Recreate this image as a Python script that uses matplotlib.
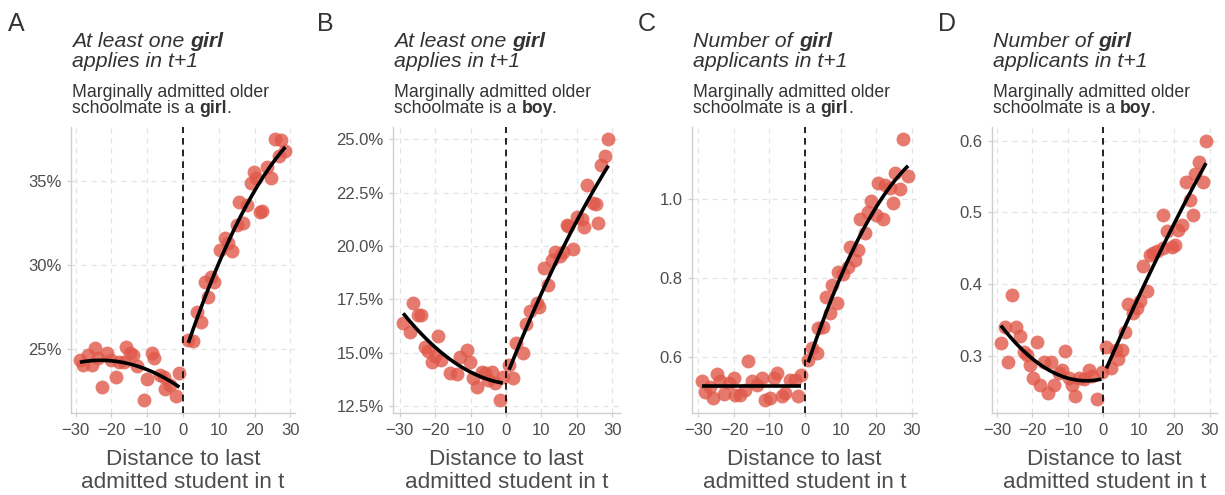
import numpy as np
import matplotlib
matplotlib.use("Agg")
import matplotlib.pyplot as plt

# ---------------- data ----------------
# Panel A: at least one girl applies in t+1 (girl older schoolmate), percent
a_xl = [-28.8, -27.9, -26.5, -25.5, -24.6, -23.7, -22.7, -21.3, -20.0, -18.8, -17.8, -16.5, -15.9,
        -14.8, -13.9, -12.9, -10.9, -10.1, -8.7, -8.1, -6.4, -5.3, -5.0, -3.6, -2.0, -1.0]
a_yl = [24.35, 24.05, 24.64, 24.05, 25.04, 24.45, 22.76, 24.74, 24.35, 23.35, 24.25, 24.25, 25.14,
        24.74, 24.64, 23.99, 21.96, 23.19, 24.74, 24.45, 23.45, 23.35, 22.60, 22.84, 22.20, 23.55]
a_xr = [1.5, 2.9, 3.8, 5.0, 6.1, 6.9, 7.8, 8.8, 10.3, 11.7, 12.7, 13.8, 15.0, 16.8, 15.6, 17.8,
        19.0, 19.9, 20.3, 21.5, 22.1, 23.6, 24.7, 25.7, 26.8, 27.5, 28.6]
a_yr = [25.54, 25.48, 27.22, 26.63, 29.00, 28.10, 29.30, 29.00, 30.90, 31.60, 31.30, 30.83, 32.38,
        32.47, 33.73, 33.57, 34.86, 35.55, 35.20, 33.13, 33.20, 35.85, 35.16, 37.50, 36.50, 37.44, 36.79]

# Panel B: at least one girl applies in t+1 (boy older schoolmate), percent
b_xl = [-29.0, -27.1, -26.2, -24.8, -23.9, -22.9, -21.9, -21.0, -20.0, -19.1, -18.2, -15.8, -13.9,
        -13.0, -11.1, -10.2, -9.2, -8.3, -6.9, -5.9, -5.0, -4.0, -3.1, -1.7, -0.9]
b_yl = [16.38, 15.98, 17.34, 16.77, 16.77, 15.25, 15.06, 14.58, 14.86, 15.78, 14.66, 14.03, 14.00,
        14.81, 15.12, 14.55, 13.80, 13.40, 14.10, 14.03, 13.72, 14.10, 13.56, 12.78, 13.86]
b_xr = [0.9, 2.1, 2.8, 4.9, 5.8, 6.8, 8.7, 9.4, 10.7, 11.9, 12.9, 13.8, 15.3, 16.2, 17.1, 17.6,
        19.0, 20.0, 21.4, 21.9, 22.8, 24.5, 25.4, 25.9, 26.8, 28.0, 28.9]
b_yr = [14.42, 13.80, 15.47, 14.97, 16.34, 16.97, 17.34, 17.16, 18.95, 18.17, 19.34, 19.73, 19.53,
        19.73, 20.98, 20.95, 19.84, 21.34, 21.25, 20.90, 22.86, 22.00, 21.95, 21.10, 23.80, 24.22, 25.00]

# Panel C: number of girl applicants in t+1 (girl older schoolmate)
c_xl = [-29.0, -28.1, -26.7, -25.8, -24.8, -23.8, -22.9, -21.5, -20.1, -19.6, -18.2, -16.8, -15.9,
        -14.9, -13.5, -12.1, -11.2, -9.8, -8.8, -7.9, -6.5, -5.5, -4.1, -2.7, -2.0, -1.0]
c_yl = [0.537, 0.511, 0.524, 0.494, 0.556, 0.537, 0.505, 0.532, 0.545, 0.503, 0.503, 0.516, 0.590,
        0.537, 0.529, 0.545, 0.490, 0.494, 0.545, 0.558, 0.499, 0.507, 0.541, 0.541, 0.501, 0.554]
c_xr = [0.9, 1.9, 3.3, 3.7, 5.1, 5.9, 7.0, 7.5, 8.9, 9.4, 10.8, 12.2, 12.6, 14.1, 15.0, 15.4, 16.8,
        17.8, 18.7, 20.1, 20.6, 22.0, 22.5, 23.9, 24.8, 25.3, 26.7, 27.6, 29.0]
c_yr = [0.592, 0.621, 0.609, 0.672, 0.676, 0.752, 0.711, 0.782, 0.735, 0.816, 0.810, 0.828, 0.878,
        0.845, 0.872, 0.949, 0.913, 0.968, 0.994, 0.960, 1.040, 0.950, 1.036, 1.028, 0.991, 1.065,
        1.025, 1.152, 1.059]

# Panel D: number of girl applicants in t+1 (boy older schoolmate)
d_xl = [-28.9, -27.7, -27.0, -25.8, -24.7, -23.6, -22.5, -21.6, -20.8, -19.8, -18.7, -17.8, -16.6,
        -15.7, -14.8, -13.8, -12.6, -11.6, -10.7, -9.8, -8.8, -7.9, -6.9, -5.5, -4.1, -3.2, -1.9, -0.5]
d_yl = [0.318, 0.341, 0.291, 0.385, 0.340, 0.328, 0.305, 0.302, 0.287, 0.270, 0.320, 0.259, 0.291,
        0.249, 0.291, 0.259, 0.277, 0.280, 0.307, 0.270, 0.260, 0.244, 0.270, 0.268, 0.281, 0.272,
        0.240, 0.278]
d_xr = [0.9, 2.1, 3.6, 4.2, 5.2, 6.1, 7.0, 8.4, 9.4, 10.3, 11.1, 12.3, 13.2, 13.9, 15.1, 16.8, 16.9,
        18.1, 19.3, 20.2, 21.2, 22.1, 23.3, 24.5, 25.3, 25.9, 27.1, 28.2, 29.0]
d_yr = [0.313, 0.283, 0.308, 0.296, 0.309, 0.334, 0.372, 0.360, 0.367, 0.376, 0.425, 0.390, 0.441,
        0.444, 0.446, 0.451, 0.496, 0.474, 0.452, 0.455, 0.475, 0.483, 0.542, 0.517, 0.497, 0.554,
        0.570, 0.543, 0.600]

x_ticks = [-30, -20, -10, 0, 10, 20, 30]
x_tick_labels = ["\u221230", "\u221220", "\u221210", "0", "10", "20", "30"]
a_yticks = [25, 30, 35]
a_ylabels = ["25%", "30%", "35%"]
b_yticks = [12.5, 15.0, 17.5, 20.0, 22.5, 25.0]
b_ylabels = ["12.5%", "15.0%", "17.5%", "20.0%", "22.5%", "25.0%"]
c_yticks = [0.6, 0.8, 1.0]
c_ylabels = ["0.6", "0.8", "1.0"]
d_yticks = [0.3, 0.4, 0.5, 0.6]
d_ylabels = ["0.3", "0.4", "0.5", "0.6"]

tags = ["A", "B", "C", "D"]
outcome_a = ["At least one", "girl", "applies in t+1"]
outcome_c = ["Number of", "girl", "applicants in t+1"]
sub_start = ["Marginally admitted older", "schoolmate is a"]
sibling_sex = ["girl", "boy", "girl", "boy"]
x_title = ["Distance to last", "admitted student in t"]

# ---------------- style ----------------
FONT = "Liberation Sans"
plt.rcParams["font.family"] = [FONT, "DejaVu Sans"]
W, H = 1225, 495
PT_COLOR = "#E0594A"
TXT = "#333333"
AXTXT = "#4d4d4d"
TAG_SIZE, TITLE_SIZE, SUB_SIZE, TICK_SIZE, XT_SIZE = 18, 15.3, 12.7, 12.0, 16.2

fig = plt.figure(figsize=(W / 100, H / 100), dpi=100)
renderer = fig.canvas.get_renderer()


def fx(px):
    return px / W


def fy(py):
    return 1 - py / H


def text_width(txt, size, weight, style):
    t = fig.text(0, 0, txt, fontsize=size, fontweight=weight, fontstyle=style)
    w = t.get_window_extent(renderer).width
    t.remove()
    return w


def rich(x_px, y_px, parts, size, color):
    """parts: (text, weight, style, gap_before)"""
    x = x_px
    prev = None
    for txt, weight, style, gap in parts:
        if prev is not None:
            ptxt, pw, ps = prev
            probe = txt[0]
            sep = " " if gap else ""
            x += text_width(ptxt + sep + probe, size, pw, ps) - text_width(probe, size, pw, ps)
        fig.text(fx(x), fy(y_px), txt, fontsize=size, fontweight=weight,
                 fontstyle=style, color=color, ha="left", va="baseline")
        prev = (txt, weight, style)


panels = [
    dict(tag=tags[0], px=(71, 295), tag_x=8, xlim=(-31.3, 31.3), ylim=(21.19, 38.21),
         xl=a_xl, yl=a_yl, xr=a_xr, yr=a_yr, degl=2, degr=2,
         yt=a_yticks, ylab=a_ylabels, outcome=outcome_a, sex=sibling_sex[0]),
    dict(tag=tags[1], px=(393.3, 620), tag_x=317, xlim=(-31.8, 32.2), ylim=(12.17, 25.58),
         xl=b_xl, yl=b_yl, xr=b_xr, yr=b_yr, degl=2, degr=2,
         yt=b_yticks, ylab=b_ylabels, outcome=outcome_a, sex=sibling_sex[1]),
    dict(tag=tags[2], px=(692.3, 917), tag_x=638, xlim=(-31.7, 31.5), ylim=(0.457, 1.183),
         xl=c_xl, yl=c_yl, xr=c_xr, yr=c_yr, degl=0, degr=2,
         yt=c_yticks, ylab=c_ylabels, outcome=outcome_c, sex=sibling_sex[2]),
    dict(tag=tags[3], px=(991.7, 1217), tag_x=938, xlim=(-31.5, 32.1), ylim=(0.2206, 0.619),
         xl=d_xl, yl=d_yl, xr=d_xr, yr=d_yr, degl=2, degr=2,
         yt=d_yticks, ylab=d_ylabels, outcome=outcome_c, sex=sibling_sex[3]),
]

top_px, bot_px = 127, 413

for p in panels:
    l, r = p["px"]
    ax = fig.add_axes([fx(l), fy(bot_px), (r - l) / W, (bot_px - top_px) / H])
    ax.set_xlim(*p["xlim"])
    ax.set_ylim(*p["ylim"])
    for s in ["top", "right"]:
        ax.spines[s].set_visible(False)
    for s in ["left", "bottom"]:
        ax.spines[s].set_color("#cfcfcf")
        ax.spines[s].set_linewidth(1.0)
    ax.set_xticks(x_ticks)
    ax.set_xticklabels(x_tick_labels)
    ax.set_yticks(p["yt"])
    ax.set_yticklabels(p["ylab"])
    ax.tick_params(axis="both", length=3, width=0.9, color="#cfcfcf",
                   labelsize=TICK_SIZE, labelcolor=AXTXT, pad=4)
    ax.tick_params(axis="x", pad=4)
    ax.grid(True, color="#e2e2e2", lw=0.9, linestyle=(0, (4, 4)))
    ax.set_axisbelow(True)

    ax.scatter(p["xl"], p["yl"], s=100, color=PT_COLOR, alpha=0.8, lw=0, zorder=2)
    ax.scatter(p["xr"], p["yr"], s=100, color=PT_COLOR, alpha=0.8, lw=0, zorder=2)
    ax.axvline(0, color="black", lw=1.2, linestyle=(0, (4, 3)), zorder=3)

    for xs, ys, deg in [(p["xl"], p["yl"], p["degl"]), (p["xr"], p["yr"], p["degr"])]:
        xs = np.asarray(xs)
        ys = np.asarray(ys)
        coef = np.polyfit(xs, ys, deg)
        xx = np.linspace(xs.min(), xs.max(), 100)
        ax.plot(xx, np.polyval(coef, xx), color="black", lw=2.6, zorder=4,
                solid_capstyle="butt")

    # tag
    fig.text(fx(p["tag_x"]), fy(31), p["tag"], fontsize=TAG_SIZE, color=TXT,
             ha="left", va="baseline")
    # title
    o = p["outcome"]
    rich(l + 1, 47.3, [(o[0], "normal", "italic", False), (o[1], "bold", "italic", True)],
         TITLE_SIZE, TXT)
    rich(l + 1, 66.7, [(o[2], "normal", "italic", False)], TITLE_SIZE, TXT)
    # subtitle
    rich(l + 1, 97.3, [(sub_start[0], "normal", "normal", False)], SUB_SIZE, TXT)
    rich(l + 1, 113.3, [(sub_start[1], "normal", "normal", False),
                        (p["sex"], "bold", "normal", True),
                        (".", "normal", "normal", False)], SUB_SIZE, TXT)
    # x title
    cx = (l + r) / 2
    fig.text(fx(cx), fy(465), x_title[0], fontsize=XT_SIZE, color=AXTXT, ha="center", va="baseline")
    fig.text(fx(cx), fy(488), x_title[1], fontsize=XT_SIZE, color=AXTXT, ha="center", va="baseline")

fig.savefig("out.png", dpi=100, facecolor="white")
